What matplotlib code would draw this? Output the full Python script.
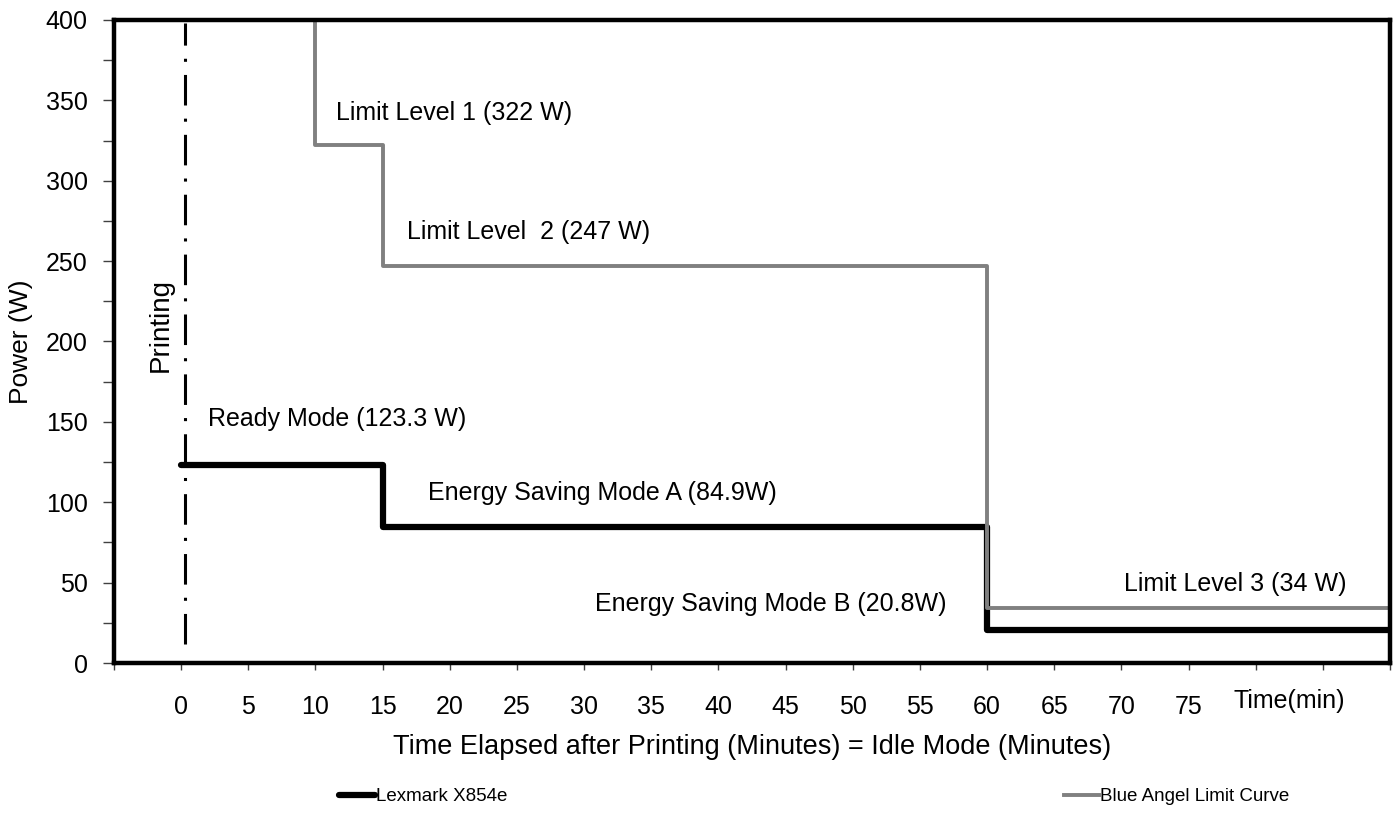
import matplotlib
matplotlib.use('Agg')
import matplotlib.pyplot as plt

plt.rcParams['font.family'] = ['Liberation Sans', 'DejaVu Sans']

# step data (minutes after printing, watts)
lexmark_t = [0, 15, 60, 90]
lexmark_p = [123.3, 84.9, 20.8, 20.8]

angel_t = [10, 10, 15, 60, 90]
angel_p = [400, 322, 247, 34, 34]

printing_t = [0.3, 0.3]
printing_p = [12, 398]

x_ticks = list(range(-5, 95, 5))
x_labels = ['' if (t < 0 or t > 75) else str(t) for t in x_ticks]

# annotations: text, x (min), y (W)
notes = [
    ('Limit Level 1 (322 W)', 11.5, 342),
    ('Limit Level  2 (247 W)', 16.8, 268),
    ('Ready Mode (123.3 W)', 2.0, 152),
    ('Energy Saving Mode A (84.9W)', 18.4, 106),
    ('Energy Saving Mode B (20.8W)', 30.8, 37),
    ('Limit Level 3 (34 W)', 70.2, 49),
]

fig = plt.figure(figsize=(13.95, 8.14), dpi=100)
ax = fig.add_axes([0.0817, 0.1855, 0.9147, 0.79])

ax.step(lexmark_t, lexmark_p, where='post', color='black', lw=4.5,
        label='Lexmark X854e', zorder=3, solid_capstyle='round')
ax.step(angel_t, angel_p, where='post', color='#808080', lw=2.8,
        label='Blue Angel Limit Curve', zorder=4)
ax.plot(printing_t, printing_p, color='black', lw=2.2,
        dashes=(10, 4.3, 1.0, 4.3), zorder=2)

ax.text(-1.5, 210, 'Printing', rotation=90, ha='center', va='center', fontsize=20)
for txt, x, y in notes:
    ax.text(x, y, txt, ha='left', va='center', fontsize=18)

ax.set_xlim(-5, 90)
ax.set_ylim(0, 400)

ax.set_xticks(x_ticks, x_labels)
ax.set_xticks([82.5], ['Time(min)'], minor=True)
ax.tick_params(axis='x', which='major', direction='out', length=5, width=1,
               color='#404040', labelsize=18, pad=18)
ax.tick_params(axis='x', which='minor', length=0, labelsize=18, pad=19)

ax.set_yticks(range(0, 401, 50))
ax.set_yticks(range(25, 400, 50), minor=True)
ax.tick_params(axis='y', which='both', direction='out', length=8, width=1,
               color='#404040', labelsize=18, pad=11)

for s in ax.spines.values():
    s.set_linewidth(3.2)
    s.set_color('black')
    s.set_zorder(5)

ax.set_xlabel('Time Elapsed after Printing (Minutes) = Idle Mode (Minutes)',
              fontsize=19.5, labelpad=11)
ax.set_ylabel('Power (W)', fontsize=19, labelpad=9)

fig.legend(loc='center left', bbox_to_anchor=(0.243, 0.021), ncol=2,
           frameon=False, fontsize=13.5, handlelength=1.9, handletextpad=0.05,
           columnspacing=29.7, borderpad=0, borderaxespad=0)

fig.savefig('out.png', dpi=100)
